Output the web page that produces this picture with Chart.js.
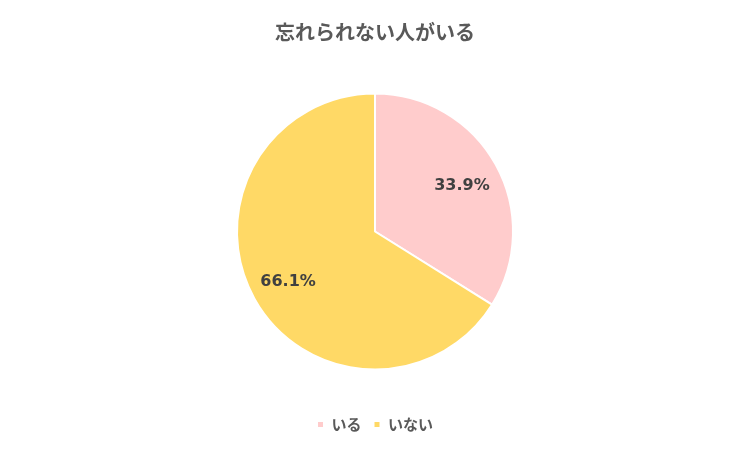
<!DOCTYPE html>
<html lang="ja">
<head>
<meta charset="utf-8">
<script src="https://cdn.jsdelivr.net/npm/chart.js@4/dist/chart.umd.min.js"></script>
<style>
  html, body { margin: 0; padding: 0; background: #fff; }
  #wrap { width: 750px; height: 450px; }
</style>
</head>
<body>
<div id="wrap"><canvas id="pieChart"></canvas></div>
<script>
const chartTitle = "忘れられない人がいる";
const categories = ["いる", "いない"];
const percentValues = [33.9, 66.1];
const sliceColors = ["#FFCCCC", "#FFD966"];

const fontFamily = "'Noto Sans CJK JP', 'Noto Sans', sans-serif";

// draws the percent inside each slice
const sliceLabels = {
    id: "sliceLabels",
    afterDatasetsDraw(chart) {
        const ctx = chart.ctx;
        const meta = chart.getDatasetMeta(0);
        ctx.save();
        ctx.font = "bold 16px 'DejaVu Sans', sans-serif";
        ctx.fillStyle = "#404040";
        ctx.textAlign = "center";
        ctx.textBaseline = "middle";
        meta.data.forEach((arc, i) => {
            const p = arc.getProps(["x", "y", "startAngle", "endAngle", "outerRadius"], true);
            const mid = (p.startAngle + p.endAngle) / 2;
            const r = p.outerRadius * 0.72;
            ctx.fillText(percentValues[i].toFixed(1) + "%", p.x + Math.cos(mid) * r, p.y + Math.sin(mid) * r + 2);
        });
        ctx.restore();
    }
};

new Chart(document.getElementById("pieChart"), {
    type: "pie",
    data: {
        labels: categories,
        datasets: [{
            data: percentValues,
            backgroundColor: sliceColors,
            borderColor: "#FFFFFF",
            borderWidth: 2,
            radius: 138,
        }],
    },
    options: {
        responsive: true,
        maintainAspectRatio: false,
        animation: false,
        layout: { padding: { top: 0, bottom: 8 } },
        plugins: {
            title: {
                display: true,
                text: chartTitle,
                color: "#595959",
                font: { family: fontFamily, size: 20, weight: "bold" },
                padding: { top: 20, bottom: 14 },
            },
            legend: {
                position: "bottom",
                labels: {
                    color: "#595959",
                    font: { family: fontFamily, size: 15, weight: "bold" },
                    boxWidth: 7,
                    boxHeight: 7,
                    padding: 12,
                },
            },
            tooltip: { enabled: false },
        },
    },
    plugins: [sliceLabels],
});
</script>
</body>
</html>
